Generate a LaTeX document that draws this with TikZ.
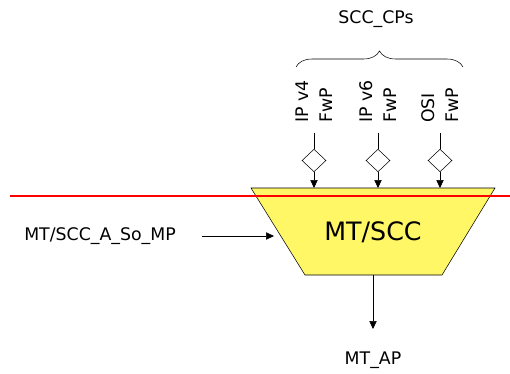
\documentclass[tikz,border=0pt]{standalone}
\usepackage{fontspec}
\setmainfont{DejaVu Sans}
\usetikzlibrary{arrows.meta, positioning, calc, shapes.geometric, decorations.pathreplacing}

\begin{document}
\begin{tikzpicture}[x=0.75pt, y=-0.75pt, >={Triangle[length=6pt,width=5.5pt]},
  every node/.style={font=\fontsize{13}{18}\selectfont},
  fwp/.style={draw, diamond, fill=white, minimum width=18pt, minimum height=17pt, inner sep=0pt},
  cplabel/.style={rotate=90, anchor=west, align=left, inner sep=0pt}]
  \useasboundingbox (0,0) rectangle (510,374);

  % Function block
  \coordinate (tl) at (251,188);
  \coordinate (tr) at (495,188);
  \coordinate (br) at (442,275);
  \coordinate (bl) at (305,275);
  \draw[fill=yellow!60] (tl) -- (tr) -- (br) -- (bl) -- cycle;
  \node[font=\fontsize{19}{22}\selectfont] (scc) at (373,232) {MT/SCC};
  \coordinate (sccbot) at (373,275);

  % Flow points
  \foreach \x/\n/\t in {314/a/IP v4, 378/b/IP v6, 440/c/OSI} {
    \node[fwp] (\n) at (\x,160.5) {};
    \coordinate (\n top) at (\x,133);
    \node[cplabel] (\n txt) at (\x,123) {\t\\FwP};
    \draw (\n top) -- (\n.north);
    \draw[->] (\n.south) -- (\n |- tl);
  }

  % Red line
  \draw[red, line width=1.2pt] (10,196) -- (510,196);

  % SCC_CPs brace
  \draw[decorate, decoration={brace, amplitude=12pt}] (296,67) -- (463,67);
  \node (cps) at (376,19) {SCC\_CPs};

  % Management point
  \node (mp) at (100,236) {MT/SCC\_A\_So\_MP};
  \coordinate (mpend) at (274,236);
  \draw[->] ([xshift=16pt]mp.east) -- (mpend);

  % Access point
  \coordinate (apend) at (373,329);
  \node (ap) at (373,360) {MT\_AP};
  \draw[->] (sccbot) -- (apend);
\end{tikzpicture}
\end{document}
